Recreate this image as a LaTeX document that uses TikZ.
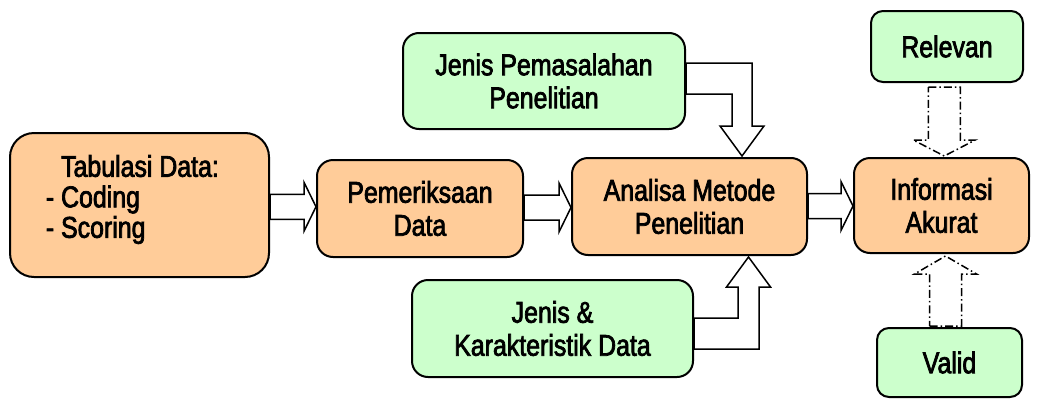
\documentclass[tikz,border=0pt]{standalone}
\usepackage{fontspec}
\setmainfont{Liberation Sans}[FakeStretch=0.83, FakeBold=2.4]
\usetikzlibrary{calc}
\definecolor{peach}{RGB}{255,204,153}
\definecolor{mint}{RGB}{204,255,204}
\newcommand\blockR[2]{%
  \draw[barrow] let \p1=(#1.east), \p2=(#2.west), \p3=($(\p1)!0.5!(\p2)$) in
    (\x1,\y3+12.5pt) -- (\x2-12pt,\y3+12.5pt) -- (\x2-12pt,\y3+24.5pt) -- (\x2,\y3)
    -- (\x2-12pt,\y3-24.5pt) -- (\x2-12pt,\y3-12.5pt) -- (\x1,\y3-12.5pt) -- cycle;}
\begin{document}
\begin{tikzpicture}[x=1pt,y=-1pt,
  box/.style={draw=black, line width=2pt, rounded corners=16pt, align=center, inner sep=0pt,
    font=\fontsize{30}{33}\selectfont},
  obox/.style={box, fill=peach},
  gbox/.style={box, fill=mint},
  barrow/.style={draw=black, fill=white, line width=1.5pt, line join=miter},
  darrow/.style={draw=black, line width=1.5pt, dash pattern=on 8pt off 3pt on 1.5pt off 3pt}]
\useasboundingbox (0,0) rectangle (1048,399);

% boxes
\node[obox, minimum width=259pt, minimum height=144pt, rounded corners=24pt] (tab) at (139.5,205) {};
\node[align=left, inner sep=0pt, font=\fontsize{30}{30.5}\selectfont] (tabtxt) at (140,199.5)
  {Tabulasi Data:\\\llap{- }Coding\\\llap{- }Scoring};
\node[obox, minimum width=206pt, minimum height=97pt] (pem) at (420,208.5) {Pemeriksaan\\Data};
\node[obox, minimum width=235pt, minimum height=97pt] (ana) at (689.5,206.5) {Analisa Metode\\Penelitian};
\node[obox, minimum width=175pt, minimum height=95pt] (inf) at (941.5,205.5) {Informasi\\Akurat};
\node[gbox, minimum width=282pt, minimum height=96pt] (jp) at (544,81) {Jenis Pemasalahan\\Penelitian};
\node[gbox, minimum width=281pt, minimum height=97pt] (jk) at (552.5,328.5) {Jenis \&\\Karakteristik Data};
\node[gbox, minimum width=152pt, minimum height=71pt, rounded corners=12pt] (rel) at (947,46.5) {Relevan};
\node[gbox, minimum width=145pt, minimum height=69pt, rounded corners=12pt] (val) at (949.5,362.5) {Valid};

% straight block arrows
\blockR{tab}{pem}
\blockR{pem}{ana}
\blockR{ana}{inf}

% bent block arrow from top
\draw[barrow] let \p1=(jp.east), \p2=(ana.north), \p3=(\x2+52.5pt,\y2+1pt) in
  (\x1,\y1+18pt) -- (\x3+10pt,\y1+18pt) -- (\x3+10pt,\y3+30pt) -- (\x3+22pt,\y3+30pt) -- (\p3)
  -- (\x3-22pt,\y3+30pt) -- (\x3-10pt,\y3+30pt) -- (\x3-10pt,\y1-13pt) -- (\x1,\y1-13pt) -- cycle;

% bent block arrow from bottom
\draw[barrow] let \p1=(jk.east), \p2=(ana.south), \p3=(\x2+59pt,\y2-1pt) in
  (\x1,\y1+10.5pt) -- (\x3-10.5pt,\y1+10.5pt) -- (\x3-10.5pt,\y3-30pt) -- (\x3-22pt,\y3-30pt) -- (\p3)
  -- (\x3+22pt,\y3-30pt) -- (\x3+10.5pt,\y3-30pt) -- (\x3+10.5pt,\y1-20.5pt) -- (\x1,\y1-20.5pt) -- cycle;

% dash-dot arrows
\draw[darrow] let \p1=(rel.south), \p2=(inf.north), \p3=($(\p1)!0.5!(\p2)$) in
  (\x3-16pt,\y1-4pt) -- (\x3+16pt,\y1-4pt) -- (\x3+16pt,\y2+17pt) -- (\x3+31pt,\y2+17pt)
  -- (\x3,\y2+1pt) -- (\x3-31pt,\y2+17pt) -- (\x3-16pt,\y2+17pt) -- cycle;
\draw[darrow] let \p1=(val.north), \p2=(inf.south), \p3=($(\p1)!0.5!(\p2)$) in
  (\x3-16pt,\y1+1pt) -- (\x3+16pt,\y1+1pt) -- (\x3+16pt,\y2-20pt) -- (\x3+31pt,\y2-20pt)
  -- (\x3,\y2-2pt) -- (\x3-31pt,\y2-20pt) -- (\x3-16pt,\y2-20pt) -- cycle;
\end{tikzpicture}
\end{document}
